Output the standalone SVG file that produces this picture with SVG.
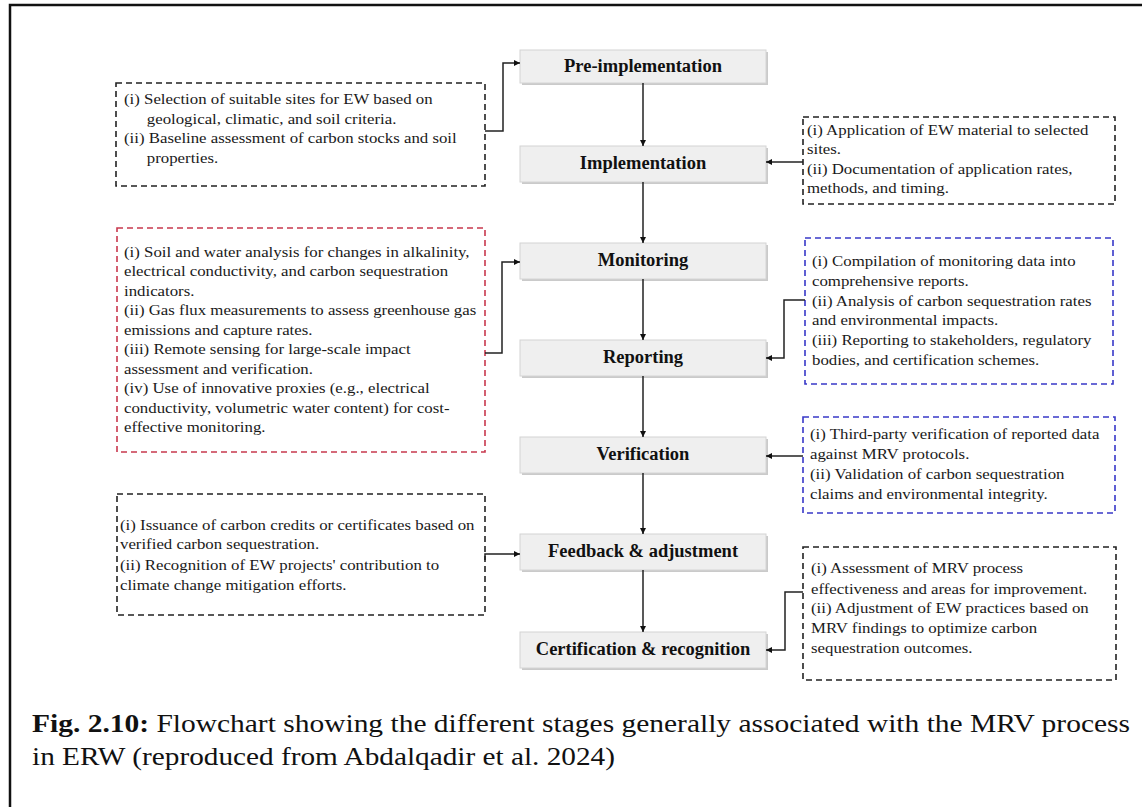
<svg xmlns="http://www.w3.org/2000/svg" width="1142" height="807" viewBox="0 0 1142 807">
<defs>
<marker id="ah" viewBox="0 0 10 10" refX="10" refY="5" markerWidth="6" markerHeight="6" markerUnits="userSpaceOnUse" orient="auto">
<path d="M0,0 L10,5 L0,10 z" fill="#111"/>
</marker>
<style>
.stage rect.sh{fill:#cacaca}
.stage rect.bx{fill:#efefef;stroke:#d4d4d4;stroke-width:1}
.stage text{font-family:"Liberation Serif","Times New Roman",serif;font-weight:bold;font-size:18.5px;fill:#111;text-anchor:middle}
.note rect{fill:none;stroke-width:1.6;stroke-dasharray:6 4}
.note text{font-family:"Liberation Serif","Times New Roman",serif;font-size:15.5px;fill:#1a1a1a}
.blk rect{stroke:#222}
.red rect{stroke:#c8384e}
.blu rect{stroke:#3838c8}
.conn path{fill:none;stroke:#222;stroke-width:1.5}
.cap{font-family:"Liberation Serif","Times New Roman",serif;font-size:25px;fill:#111}
</style>
</defs>
<rect x="0" y="0" width="1142" height="807" fill="#fff"/>
<rect x="10" y="5" width="1140" height="810" fill="none" stroke="#111" stroke-width="2.5"/>

<g id="stage-pre" class="stage"><rect class="sh" x="522" y="52" width="246" height="33"/><rect class="bx" x="520" y="50" width="246" height="33"/><text x="643" y="72">Pre-implementation</text></g>
<g id="stage-impl" class="stage"><rect class="sh" x="522" y="148" width="246" height="36"/><rect class="bx" x="520" y="146" width="246" height="36"/><text x="643" y="168.5">Implementation</text></g>
<g id="stage-mon" class="stage"><rect class="sh" x="522" y="245" width="246" height="36"/><rect class="bx" x="520" y="243" width="246" height="36"/><text x="643" y="265.5">Monitoring</text></g>
<g id="stage-rep" class="stage"><rect class="sh" x="522" y="342" width="246" height="36"/><rect class="bx" x="520" y="340" width="246" height="36"/><text x="643" y="362.5">Reporting</text></g>
<g id="stage-ver" class="stage"><rect class="sh" x="522" y="439" width="246" height="36"/><rect class="bx" x="520" y="437" width="246" height="36"/><text x="643" y="459.5">Verification</text></g>
<g id="stage-fb" class="stage"><rect class="sh" x="522" y="536" width="246" height="36"/><rect class="bx" x="520" y="534" width="246" height="36"/><text x="643" y="556.5">Feedback &amp; adjustment</text></g>
<g id="stage-cert" class="stage"><rect class="sh" x="522" y="634" width="246" height="36"/><rect class="bx" x="520" y="632" width="246" height="36"/><text x="643" y="654.5">Certification &amp; recognition</text></g>

<g id="note-pre" class="note blk"><rect x="116" y="83" width="369" height="103"/>
<g transform="matrix(1.085 0 0 1 -10.54 0)">
<text x="124" y="104">(i) Selection of suitable sites for EW based on</text>
<text x="145" y="124">geological, climatic, and soil criteria.</text>
<text x="124" y="143.5">(ii) Baseline assessment of carbon stocks and soil</text>
<text x="145" y="163">properties.</text></g></g>

<g id="note-impl" class="note blk"><rect x="803" y="117" width="312" height="87"/>
<g transform="matrix(1.085 0 0 1 -68.6 0)">
<text x="807" y="135">(i) Application of EW material to selected</text>
<text x="807" y="154.5">sites.</text>
<text x="807" y="174">(ii) Documentation of application rates,</text>
<text x="807" y="193.5">methods, and timing.</text></g></g>

<g id="note-mon" class="note red"><rect x="117" y="228" width="368" height="224"/>
<g transform="matrix(1.085 0 0 1 -10.54 0)">
<text x="124" y="257">(i) Soil and water analysis for changes in alkalinity,</text>
<text x="124" y="276.5">electrical conductivity, and carbon sequestration</text>
<text x="124" y="296">indicators.</text>
<text x="124" y="315.5">(ii) Gas flux measurements to assess greenhouse gas</text>
<text x="124" y="335">emissions and capture rates.</text>
<text x="124" y="354.5">(iii) Remote sensing for large-scale impact</text>
<text x="124" y="374">assessment and verification.</text>
<text x="124" y="393.5">(iv) Use of innovative proxies (e.g., electrical</text>
<text x="124" y="413">conductivity, volumetric water content) for cost-</text>
<text x="124" y="432.5">effective monitoring.</text></g></g>

<g id="note-rep" class="note blu"><rect x="805" y="238" width="308" height="146"/>
<g transform="matrix(1.085 0 0 1 -69.02 0)">
<text x="812" y="266">(i) Compilation of monitoring data into</text>
<text x="812" y="286">comprehensive reports.</text>
<text x="812" y="306">(ii) Analysis of carbon sequestration rates</text>
<text x="812" y="325.5">and environmental impacts.</text>
<text x="812" y="345.5">(iii) Reporting to stakeholders, regulatory</text>
<text x="812" y="365">bodies, and certification schemes.</text></g></g>

<g id="note-ver" class="note blu"><rect x="803" y="417" width="312" height="96"/>
<g transform="matrix(1.085 0 0 1 -68.85 0)">
<text x="810" y="439.5">(i) Third-party verification of reported data</text>
<text x="810" y="459.5">against MRV protocols.</text>
<text x="810" y="479">(ii) Validation of carbon sequestration</text>
<text x="810" y="499">claims and environmental integrity.</text></g></g>

<g id="note-fb" class="note blk"><rect x="117" y="494" width="368" height="121"/>
<g transform="matrix(1.085 0 0 1 -10.2 0)">
<text x="120" y="530">(i) Issuance of carbon credits or certificates based on</text>
<text x="120" y="549.5">verified carbon sequestration.</text>
<text x="120" y="570">(ii) Recognition of EW projects' contribution to</text>
<text x="120" y="590">climate change mitigation efforts.</text></g></g>

<g id="note-cert" class="note blk"><rect x="803" y="547" width="313" height="133"/>
<g transform="matrix(1.085 0 0 1 -68.94 0)">
<text x="811" y="573">(i) Assessment of MRV process</text>
<text x="811" y="594">effectiveness and areas for improvement.</text>
<text x="811" y="613.5">(ii) Adjustment of EW practices based on</text>
<text x="811" y="633.5">MRV findings to optimize carbon</text>
<text x="811" y="653">sequestration outcomes.</text></g></g>

<g id="connectors" class="conn">
<path d="M643,83 V146" marker-end="url(#ah)"/>
<path d="M643,182 V243" marker-end="url(#ah)"/>
<path d="M643,279 V340" marker-end="url(#ah)"/>
<path d="M643,376 V437" marker-end="url(#ah)"/>
<path d="M643,473 V534" marker-end="url(#ah)"/>
<path d="M643,570 V632" marker-end="url(#ah)"/>
<path d="M485,131 H503 V63 H520" marker-end="url(#ah)"/>
<path d="M803,162 H766" marker-end="url(#ah)"/>
<path d="M485,353 H502 V262 H520" marker-end="url(#ah)"/>
<path d="M805,300 H784 V358 H766" marker-end="url(#ah)"/>
<path d="M803,456 H766" marker-end="url(#ah)"/>
<path d="M485,560 V554 H520" marker-end="url(#ah)"/>
<path d="M803,592 H785 V650 H766" marker-end="url(#ah)"/>
</g>

<text class="cap" x="32" y="732" textLength="1098" lengthAdjust="spacingAndGlyphs"><tspan font-weight="bold">Fig. 2.10:</tspan> Flowchart showing the different stages generally associated with the MRV process</text>
<text class="cap" x="32" y="765" textLength="583" lengthAdjust="spacingAndGlyphs">in ERW (reproduced from Abdalqadir et al. 2024)</text>
</svg>
